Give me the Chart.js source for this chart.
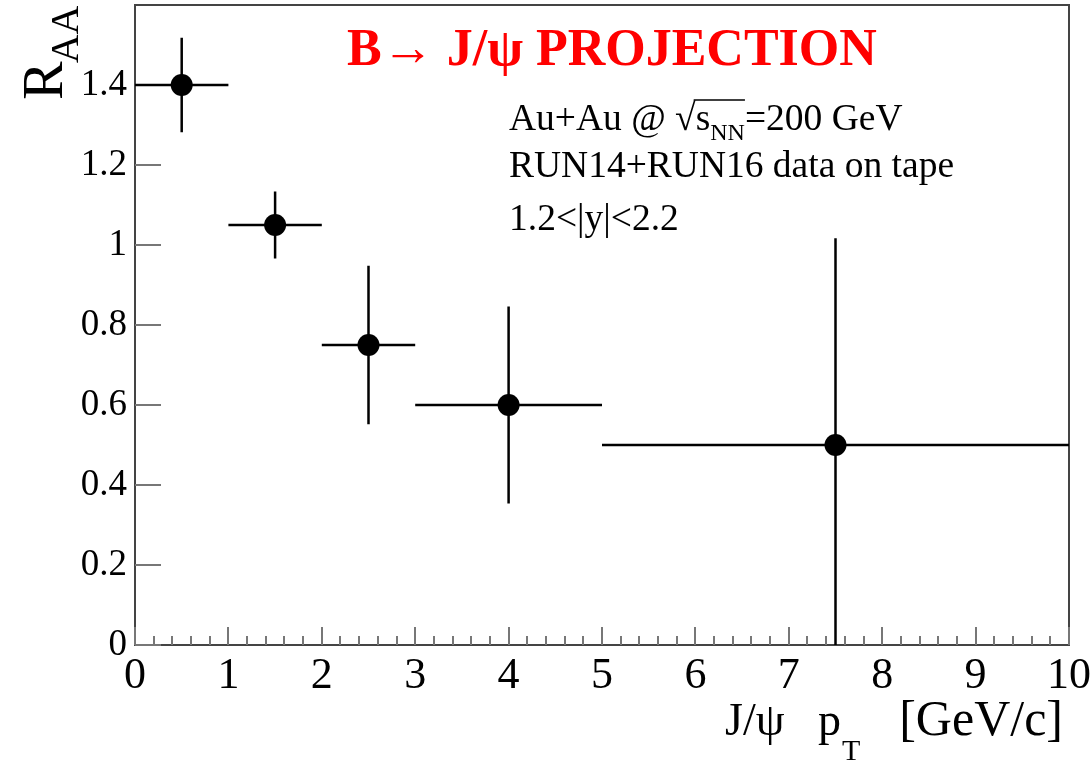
<!DOCTYPE html>
<html><head><meta charset="utf-8">
<script src="https://cdn.jsdelivr.net/npm/chart.js@4/dist/chart.umd.min.js"></script>
<style>html,body{margin:0;padding:0;background:#fff}#wrap{width:1091px;height:762px;overflow:hidden}canvas{display:block}</style>
</head><body><div id="wrap"><canvas id="c" width="1091" height="762"></canvas></div>
<script>
// ---- data ----
const ptCenters = [0.5, 1.5, 2.5, 4, 7.5];
const binLow    = [0, 1, 2, 3, 5];
const binHigh   = [1, 2, 3, 5, 10];
const raaValues = [1.4, 1.05, 0.75, 0.6, 0.5];
const raaErrors = [0.118, 0.084, 0.198, 0.246, 0.517];
const xTickValues = [0, 1, 2, 3, 4, 5, 6, 7, 8, 9, 10];
const yTickValues = [0, 0.2, 0.4, 0.6, 0.8, 1, 1.2, 1.4];
const titleText = "B\u2192 J/\u03C8 PROJECTION";
const infoLines = ["RUN14+RUN16 data on tape", "1.2<|y|<2.2"];

const SERIF = '"Liberation Serif", "Times New Roman", serif';

const overlay = {
  id: 'overlay',
  beforeDatasetsDraw(chart) {
    const ctx = chart.ctx, xs = chart.scales.x, ys = chart.scales.y, a = chart.chartArea;
    ctx.save();
    // frame
    ctx.strokeStyle = '#444'; ctx.lineWidth = 2;
    ctx.strokeRect(a.left, a.top, a.right - a.left, a.bottom - a.top);
    // x ticks
    ctx.strokeStyle = '#777'; ctx.lineWidth = 2;
    for (let i = 0; i <= 50; i++) {
      const v = i * 0.2;
      const px = Math.round(xs.getPixelForValue(v));
      const len = (i % 5 === 0) ? 18 : 9;
      ctx.beginPath(); ctx.moveTo(px, a.bottom); ctx.lineTo(px, a.bottom - len); ctx.stroke();
    }
    // y ticks
    yTickValues.forEach(v => {
      const py = Math.round(ys.getPixelForValue(v));
      ctx.beginPath(); ctx.moveTo(a.left, py); ctx.lineTo(a.left + 26, py); ctx.stroke();
    });
    // error bars
    ctx.beginPath(); ctx.rect(a.left, a.top, a.right - a.left, a.bottom - a.top); ctx.clip();
    ctx.strokeStyle = '#000'; ctx.lineWidth = 2.5;
    for (let i = 0; i < ptCenters.length; i++) {
      const cx = xs.getPixelForValue(ptCenters[i]);
      const cy = ys.getPixelForValue(raaValues[i]);
      ctx.beginPath();
      ctx.moveTo(xs.getPixelForValue(binLow[i]), cy);
      ctx.lineTo(xs.getPixelForValue(binHigh[i]), cy);
      ctx.moveTo(cx, ys.getPixelForValue(raaValues[i] + raaErrors[i]));
      ctx.lineTo(cx, ys.getPixelForValue(raaValues[i] - raaErrors[i]));
      ctx.stroke();
    }
    ctx.restore();
  },
  afterDraw(chart) {
    const ctx = chart.ctx;
    ctx.save();
    ctx.textBaseline = 'alphabetic';
    // title
    ctx.fillStyle = '#ff0000';
    ctx.font = 'bold 52px ' + SERIF;
    ctx.fillText(titleText, 347, 65);
    // info text
    ctx.fillStyle = '#000';
    let x = 509;
    ctx.font = '37.5px ' + SERIF;
    ctx.fillText('Au+Au @ ', x, 130); x += ctx.measureText('Au+Au @ ').width;
    ctx.fillText('\u221A', x, 130); x += ctx.measureText('\u221A').width;
    const sStart = x;
    ctx.fillText('s', x, 130); x += ctx.measureText('s').width;
    ctx.font = '24px ' + SERIF;
    ctx.fillText('NN', x, 140); x += ctx.measureText('NN').width;
    ctx.strokeStyle = '#000'; ctx.lineWidth = 1.5;
    ctx.beginPath(); ctx.moveTo(sStart - 2, 100); ctx.lineTo(x, 100); ctx.stroke();
    ctx.font = '37.5px ' + SERIF;
    ctx.fillText('=200 GeV', x, 130);
    ctx.fillText(infoLines[0], 509, 177);
    ctx.fillText(infoLines[1], 509, 230);
    // x axis title
    ctx.font = '46px ' + SERIF;
    ctx.fillText('J/\u03C8', 725, 735);
    ctx.fillText('p', 818, 735);
    ctx.font = '30px ' + SERIF;
    ctx.fillText('T', 842, 760);
    ctx.font = '50px ' + SERIF;
    ctx.textAlign = 'right';
    ctx.fillText('[GeV/c]', 1063, 735);
    ctx.textAlign = 'left';
    // y axis title
    ctx.translate(62, 100);
    ctx.rotate(-Math.PI / 2);
    ctx.font = '58px ' + SERIF;
    ctx.fillText('R', 0, 0);
    const rw = ctx.measureText('R').width;
    ctx.font = '40px ' + SERIF;
    ctx.fillText('AA', rw - 2, 16);
    ctx.restore();
  }
};

function noPad(s) { s.paddingTop = 0; s.paddingBottom = 0; s.paddingLeft = 0; s.paddingRight = 0; }

new Chart(document.getElementById('c'), {
  type: 'scatter',
  data: {
    datasets: [{
      data: ptCenters.map((x, i) => ({ x: x, y: raaValues[i] })),
      backgroundColor: '#000', borderColor: '#000', borderWidth: 0,
      pointRadius: 11, pointHoverRadius: 11
    }]
  },
  options: {
    responsive: false, animation: false, devicePixelRatio: 1,
    layout: { autoPadding: false, padding: { top: 5, right: 22, left: 0, bottom: 0 } },
    plugins: { legend: { display: false }, tooltip: { enabled: false }, title: { display: false } },
    scales: {
      x: {
        type: 'linear', min: 0, max: 10,
        afterFit: s => { s.height = 117; noPad(s); },
        afterBuildTicks: s => { s.ticks = xTickValues.map(v => ({ value: v })); },
        ticks: { font: { family: SERIF, size: 44 }, color: '#000', padding: 5, maxRotation: 0, autoSkip: false,
                 callback: v => String(v) },
        grid: { display: false, drawTicks: false },
        border: { display: false }
      },
      y: {
        type: 'linear', min: 0, max: 1.6,
        afterFit: s => { s.width = 135; noPad(s); },
        afterBuildTicks: s => { s.ticks = yTickValues.map(v => ({ value: v })); },
        ticks: { font: { family: SERIF, size: 37 }, color: '#000', padding: 8, autoSkip: false,
                 callback: v => String(Math.round(v * 10) / 10) },
        grid: { display: false, drawTicks: false },
        border: { display: false }
      }
    }
  },
  plugins: [overlay]
});
</script>
</body></html>
